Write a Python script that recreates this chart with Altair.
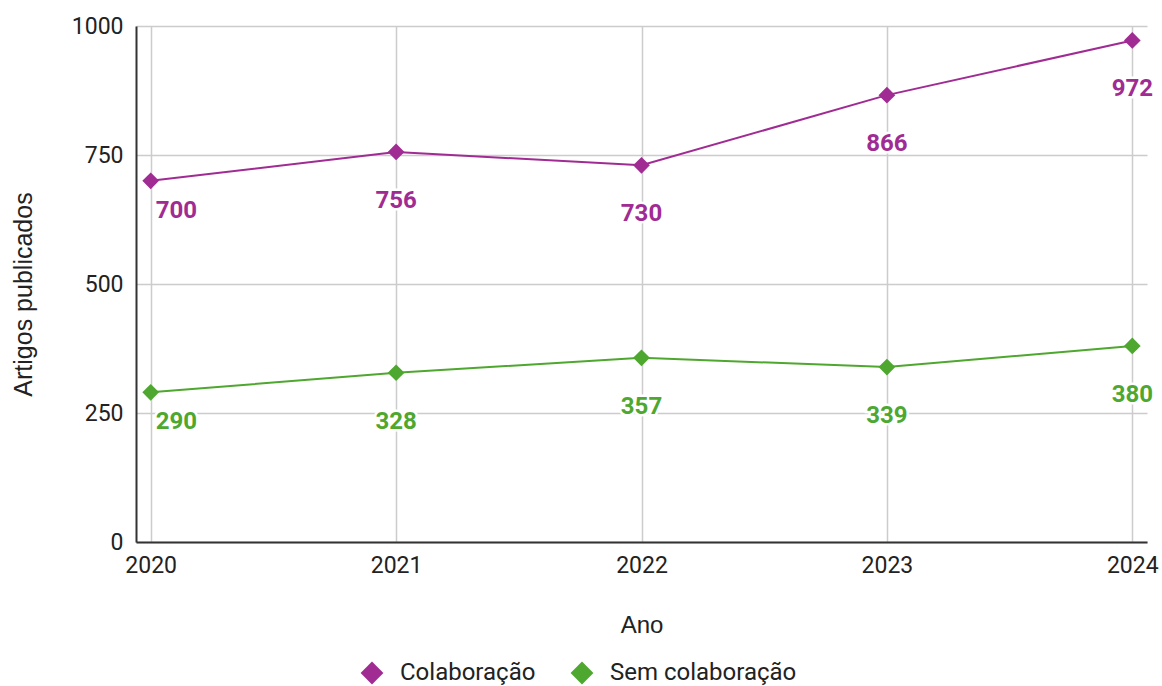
import altair as alt
import pandas as pd

# Published articles per year, with and without collaboration
anos = [2020, 2021, 2022, 2023, 2024]
colaboracao = [700, 756, 730, 866, 972]
sem_colaboracao = [290, 328, 357, 339, 380]
series = ["Colaboração", "Sem colaboração"]
cores = ["#A02B93", "#4EA72E"]

df = pd.DataFrame(
    {
        "Ano": anos * 2,
        "Artigos": colaboracao + sem_colaboracao,
        "Serie": [series[0]] * len(anos) + [series[1]] * len(anos),
    }
)

x = alt.X(
    "Ano:Q",
    scale=alt.Scale(domain=[anos[0], anos[-1]], padding=14.7, nice=False, zero=False),
    axis=alt.Axis(
        values=anos,
        format="d",
        title="Ano",
        titleFont="Liberation Sans",
        titleFontSize=24,
        titleFontWeight="normal",
        titleColor="#222222",
        titleY=83,
        titleBaseline="middle",
        labelFont="Roboto",
        labelFontSize=23,
        labelColor="#222222",
        labelPadding=12,
        ticks=False,
        domainColor="#333333",
        domainWidth=2,
        gridColor="#cccccc",
        gridWidth=1.5,
    ),
)
y = alt.Y(
    "Artigos:Q",
    scale=alt.Scale(domain=[0, 1000], nice=False),
    axis=alt.Axis(
        values=[0, 250, 500, 750, 1000],
        format="d",
        title="Artigos publicados",
        titleFont="Liberation Sans",
        titleFontSize=25,
        titleFontWeight="normal",
        titleColor="#222222",
        titleX=-113,
        titleY=268,
        titleAngle=-90,
        titleAlign="center",
        titleBaseline="middle",
        labelFont="Roboto",
        labelFontSize=23,
        labelColor="#222222",
        labelPadding=13,
        ticks=False,
        domainColor="#333333",
        domainWidth=2,
        gridColor="#cccccc",
        gridWidth=1.5,
    ),
)
cor = alt.Color(
    "Serie:N",
    scale=alt.Scale(domain=series, range=cores),
    legend=alt.Legend(
        title=None,
        orient="none",
        direction="horizontal",
        legendX=224,
        legendY=635,
        symbolType="diamond",
        symbolSize=520,
        symbolStrokeWidth=0,
        symbolOpacity=1,
        labelFont="Roboto",
        labelFontSize=24,
        labelColor="#222222",
        labelOffset=16,
        labelLimit=400,
        columnPadding=34,
    ),
)

base = alt.Chart(df)

linhas = base.mark_line(strokeWidth=2).encode(x=x, y=y, color=cor)
pontos = base.mark_point(shape="diamond", filled=True, size=280, opacity=1).encode(x=x, y=y, color=cor)

rotulo = dict(fontSize=24, fontWeight="bold", font="Roboto", baseline="alphabetic")

# First-year labels sit to the right of the point, the rest are centred below it
primeiros = base.transform_filter(alt.datum.Ano == anos[0])
demais = base.transform_filter(alt.datum.Ano != anos[0])

halo_prim = primeiros.mark_text(align="left", dx=5, dy=37, stroke="white", strokeWidth=5, fill="white", **rotulo).encode(x=x, y=y, text="Artigos:Q")
txt_prim = primeiros.mark_text(align="left", dx=5, dy=37, **rotulo).encode(x=x, y=y, text="Artigos:Q", color=cor)
halo_dem = demais.mark_text(align="center", dy=56, stroke="white", strokeWidth=5, fill="white", **rotulo).encode(x=x, y=y, text="Artigos:Q")
txt_dem = demais.mark_text(align="center", dy=56, **rotulo).encode(x=x, y=y, text="Artigos:Q", color=cor)

chart = (
    alt.layer(linhas, halo_prim, halo_dem, txt_prim, txt_dem, pontos)
    .properties(
        width=1011,
        height=516,
        autosize=alt.AutoSizeParams(type="none"),
        padding={"left": 136, "top": 26, "right": 15, "bottom": 144},
        background="white",
    )
    .configure_view(stroke=None)
)

chart.save("out.html", embed_options={"renderer": "svg", "actions": False})
